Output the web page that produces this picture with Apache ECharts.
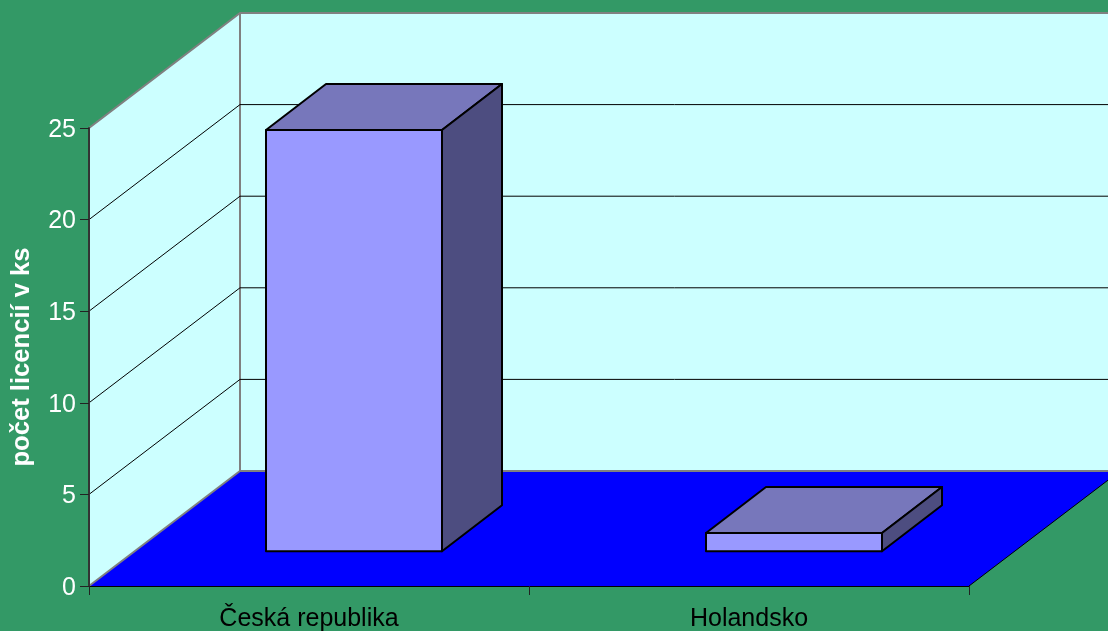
<!DOCTYPE html>
<html><head><meta charset="utf-8">
<style>html,body{margin:0;padding:0;background:#339966}#c{width:1108px;height:631px}</style>
<script src="https://cdn.jsdelivr.net/npm/echarts@6/dist/echarts.min.js"></script>
</head><body><div id="c"></div>
<script>
const categories = ['Česká republika', 'Holandsko'];
const licences = [23, 1];
const gridTicks = [5, 10, 15, 20];
const axisTitle = 'počet licencií v ks';

const DX = 151, DY = 115;            // oblique depth of the plot box
const FRONT = [45, -34.7], BACK = [105, -80.7]; // bar's near and far depth offsets
const FONT = '"Liberation Sans", Arial, sans-serif';

const chart = echarts.init(document.getElementById('c'), null, {renderer: 'canvas'});

function renderWalls(params, api) {
  const c = params.coordSys, x0 = c.x, x1 = c.x + c.width, yb = c.y + c.height, yt = c.y;
  const edge = {stroke: '#808080', lineWidth: 2, fill: null};
  return {type: 'group', children: [
    {type: 'polygon', shape: {points: [[x0 + DX, yt - DY], [x1 + DX, yt - DY], [x1 + DX, yb - DY], [x0 + DX, yb - DY]]}, style: {fill: '#CCFFFF', stroke: null}},
    {type: 'polygon', shape: {points: [[x0, yt], [x0 + DX, yt - DY], [x0 + DX, yb - DY], [x0, yb]]}, style: {fill: '#CCFFFF', stroke: null}},
    {type: 'polygon', shape: {points: [[x0, yb], [x1, yb], [x1 + DX, yb - DY], [x0 + DX, yb - DY]]}, style: {fill: '#0000FF', stroke: null}},
    {type: 'polyline', shape: {points: [[x0, yt], [x0 + DX, yt - DY], [x1 + DX, yt - DY]]}, style: edge},
    {type: 'line', shape: {x1: x0 + DX, y1: yt - DY, x2: x0 + DX, y2: yb - DY}, style: edge},
    {type: 'line', shape: {x1: x0, y1: yb, x2: x0 + DX, y2: yb - DY}, style: edge},
    {type: 'line', shape: {x1: x0 + DX, y1: yb - DY, x2: x1 + DX, y2: yb - DY}, style: edge},
    {type: 'line', shape: {x1: x1, y1: yb, x2: x1 + DX, y2: yb - DY}, style: {stroke: '#000', lineWidth: 1}}
  ]};
}

function renderGrid(params, api) {
  const c = params.coordSys, y = api.coord([0, api.value(1)])[1];
  const x0 = c.x, x1 = c.x + c.width;
  return {type: 'polyline', shape: {points: [[x0, y], [x0 + DX, y - DY], [x1 + DX, y - DY]]},
    style: {stroke: '#000', lineWidth: 1, fill: null}};
}

function renderBar(params, api) {
  const base = api.coord([api.value(0), 0]), top = api.coord([api.value(0), api.value(1)]);
  const half = api.size([1, 0])[0] * 0.2;
  const l = base[0] + FRONT[0] - half, r = base[0] + FRONT[0] + half;
  const yb = base[1] + FRONT[1], yt = top[1] + FRONT[1];
  const bx = BACK[0] - FRONT[0], by = BACK[1] - FRONT[1];
  const st = f => ({fill: f, stroke: '#000', lineWidth: 2, lineJoin: 'round'});
  return {type: 'group', children: [
    {type: 'polygon', shape: {points: [[l, yt], [r, yt], [r + bx, yt + by], [l + bx, yt + by]]}, style: st('#7777BB')},
    {type: 'polygon', shape: {points: [[r, yt], [r + bx, yt + by], [r + bx, yb + by], [r, yb]]}, style: st('#4D4D80')},
    {type: 'polygon', shape: {points: [[l, yt], [r, yt], [r, yb], [l, yb]]}, style: st('#9999FF')}
  ]};
}

chart.setOption({
  animation: false,
  backgroundColor: '#339966',
  grid: {left: 89, top: 128, width: 880, height: 458, outerBoundsMode: 'none'},
  xAxis: {
    type: 'category', data: categories, z: 10,
    axisLine: {lineStyle: {color: '#000', width: 1}},
    axisTick: {show: true, length: 9, alignWithLabel: false, lineStyle: {color: '#222', width: 1}},
    axisLabel: {color: '#000', fontFamily: FONT, fontSize: 25, margin: 21},
    splitLine: {show: false}
  },
  yAxis: {
    type: 'value', min: 0, max: 25, interval: 5, z: 10,
    name: axisTitle, nameLocation: 'middle', nameGap: 54, nameRotate: 90,
    nameTextStyle: {color: '#fff', fontFamily: FONT, fontSize: 25.6, fontWeight: 'bold'},
    axisLine: {show: true, lineStyle: {color: '#333', width: 2}},
    axisTick: {show: true, length: 9, lineStyle: {color: '#222', width: 1}},
    axisLabel: {color: '#fff', fontFamily: FONT, fontSize: 25, margin: 13, verticalAlign: 'top', lineHeight: 4},
    splitLine: {show: false}
  },
  series: [
    {type: 'custom', clip: false, z: 1, silent: true, renderItem: renderWalls, data: [[0, 0]], encode: {x: 0, y: 1}},
    {type: 'custom', clip: false, z: 2, silent: true, renderItem: renderGrid, data: gridTicks.map(v => [0, v]), encode: {x: 0, y: 1}},
    {type: 'custom', clip: false, z: 3, silent: true, renderItem: renderBar, data: licences.map((v, i) => [i, v]), encode: {x: 0, y: 1}}
  ]
});
</script></body></html>
